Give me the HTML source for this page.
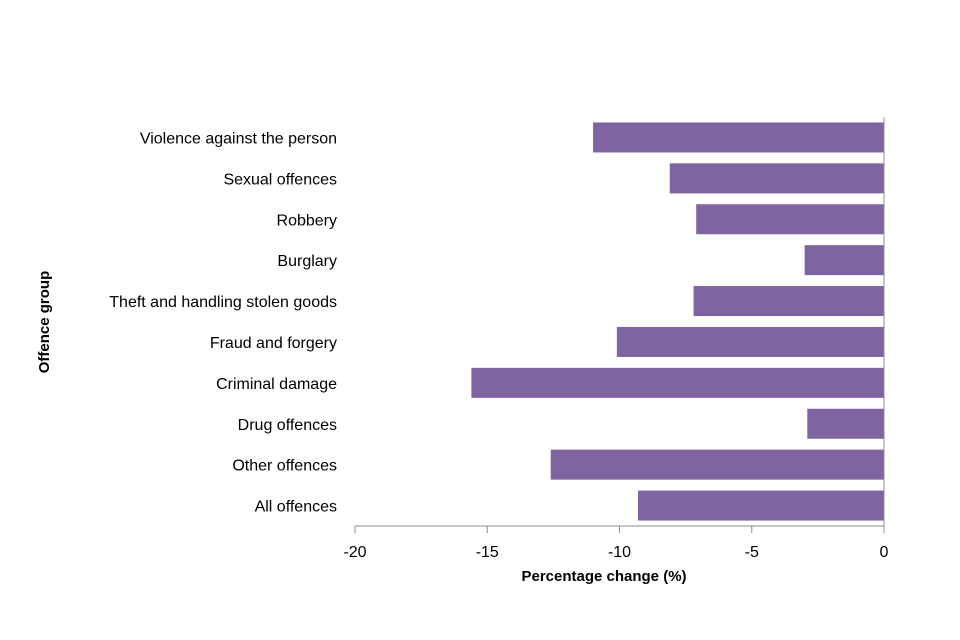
<!DOCTYPE html>
<html><head><meta charset="utf-8"><style>
body{margin:0;background:#fff;}
svg{display:block;font-family:"Liberation Sans",Arial,sans-serif;}
</style></head><body>
<svg id="chart" width="960" height="640">
<g id="bars"></g>
<g id="ylabels"></g>
<g id="xaxis"></g>
<line x1="884" y1="117" x2="884" y2="526" stroke="#8c8c8c" stroke-width="1"/>
<text x="604" y="581" font-size="15" font-weight="bold" text-anchor="middle" fill="#000">Percentage change  (%)</text>
<text transform="translate(49,322) rotate(-90)" font-size="15" font-weight="bold" text-anchor="middle" fill="#000">Offence group</text>
</svg>
<script>
const categories=["Violence against the person","Sexual offences","Robbery","Burglary","Theft and handling stolen goods","Fraud and forgery","Criminal damage","Drug offences","Other offences","All offences"];
const values=[-11.0,-8.1,-7.1,-3.0,-7.2,-10.1,-15.6,-2.9,-12.6,-9.3];
const ticks=[-20,-15,-10,-5,0];
const ns="http://www.w3.org/2000/svg";
const x0=355,x1=884,xmin=-20,xmax=0;
const X=v=>x0+(v-xmin)/(xmax-xmin)*(x1-x0);
const plotTop=117,plotBottom=526,band=(plotBottom-plotTop)/categories.length;
const Y=i=>plotTop+band*(i+0.5);
const bars=document.getElementById('bars'),yl=document.getElementById('ylabels'),xa=document.getElementById('xaxis');
categories.forEach((c,i)=>{
 const r=document.createElementNS(ns,'rect');
 const a=X(values[i]),b=X(0);
 r.setAttribute('x',Math.min(a,b));r.setAttribute('width',Math.abs(b-a));
 r.setAttribute('y',Y(i)-15);r.setAttribute('height',30);r.setAttribute('fill','#8064a2');
 
 
 bars.appendChild(r);
 const t=document.createElementNS(ns,'text');
 t.setAttribute('x',337);t.setAttribute('y',Y(i)+6);t.setAttribute('text-anchor','end');t.setAttribute('font-size','16');
 t.textContent=c;
 
 
 yl.appendChild(t);
});
const al=document.createElementNS(ns,'line');
al.setAttribute('x1',x0);al.setAttribute('x2',x1);al.setAttribute('y1',plotBottom);al.setAttribute('y2',plotBottom);al.setAttribute('stroke','#8c8c8c');


xa.appendChild(al);
ticks.forEach(v=>{
 const l=document.createElementNS(ns,'line');
 l.setAttribute('x1',X(v));l.setAttribute('x2',X(v));l.setAttribute('y1',plotBottom);l.setAttribute('y2',plotBottom+7);l.setAttribute('stroke','#8c8c8c');
 
 
 xa.appendChild(l);
 const t=document.createElementNS(ns,'text');
 t.setAttribute('x',X(v));t.setAttribute('y',557);t.setAttribute('text-anchor','middle');t.setAttribute('font-size','16');
 t.textContent=v;
 
 
 xa.appendChild(t);
});
</script>
</body></html>
